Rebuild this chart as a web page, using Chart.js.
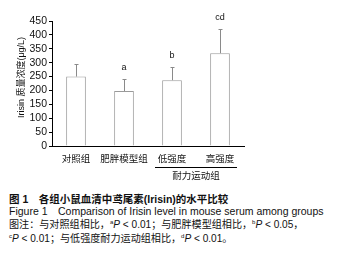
<!DOCTYPE html>
<html>
<head>
<meta charset="utf-8">
<script src="https://cdn.jsdelivr.net/npm/chart.js@4.4.1/dist/chart.umd.min.js"></script>
<style>
  body { margin: 0; background: #fff; }
  #wrap { position: relative; width: 345px; height: 262px; }
  #chartBox { position: absolute; left: 0; top: 0; width: 345px; height: 185px; }
  #caption { position: absolute; left: 9px; top: 194px; width: 336px; white-space: nowrap;
    font-family: "Liberation Sans", "Noto Sans CJK SC", sans-serif; font-size: 10.5px; color: #111; line-height: 11.5px; }
  #caption .t { font-weight: bold; }
  #caption .n { font-size: 10.1px; }
  #caption sup { font-size: 6px; vertical-align: 4px; }
  #caption i { font-style: italic; }
</style>
</head>
<body>
<div id="wrap">
  <div id="chartBox"><canvas id="myChart" width="345" height="185"></canvas></div>
  <div id="caption">
    <div class="t">图 1&emsp;各组小鼠血清中鸢尾素(Irisin)的水平比较</div>
    <div>Figure 1&emsp;Comparison of Irisin level in mouse serum among groups</div>
    <div class="n">图注：与对照组相比，<sup>a</sup><i>P</i> &lt; 0.01；与肥胖模型组相比，<sup>b</sup><i>P</i> &lt; 0.05，</div>
    <div class="n"><sup>c</sup><i>P</i> &lt; 0.01；与低强度耐力运动组相比，<sup>d</sup><i>P</i> &lt; 0.01。</div>
  </div>
</div>
<script>
  // data
  const categories = ["对照组", "肥胖模型组", "低强度", "高强度"];
  const means = [250, 198, 237, 334];
  const errors = [44, 42, 46, 86];
  const sigMarks = ["", "a", "b", "cd"];
  const groupName = "耐力运动组";
  const groupMembers = [2, 3];
  const yMax = 450;
  const yStep = 50;
  const yTitle = "Irisin 质量浓度(μg/L)";

  const latin = '"Liberation Sans", "Noto Sans CJK SC", sans-serif';
  const cjk = '"Noto Sans CJK SC", sans-serif';

  // error bars, significance letters, group bracket and y title
  const extras = {
    id: "extras",
    afterDatasetsDraw(chart) {
      const ctx = chart.ctx;
      const y = chart.scales.y;
      const x = chart.scales.x;
      const bars = chart.getDatasetMeta(0).data;
      ctx.save();
      ctx.strokeStyle = "#8a8a8a";
      ctx.lineWidth = 1;
      bars.forEach((bar, i) => {
        const cx = Math.round(bar.x) + 0.5;
        const top = y.getPixelForValue(means[i]);
        const hi = y.getPixelForValue(means[i] + errors[i]);
        ctx.beginPath();
        ctx.moveTo(cx, top);
        ctx.lineTo(cx, hi);
        ctx.moveTo(cx - 2, Math.round(hi) + 0.5);
        ctx.lineTo(cx + 2, Math.round(hi) + 0.5);
        ctx.stroke();
        if (sigMarks[i]) {
          ctx.fillStyle = "#111";
          ctx.font = "9px " + latin;
          ctx.textAlign = "center";
          ctx.textBaseline = "middle";
          ctx.fillText(sigMarks[i], bar.x, hi - 12);
        }
      });

      // bracket under the exercise groups
      const x0 = x.getPixelForValue(groupMembers[0]) - 17;
      const x1 = x.getPixelForValue(groupMembers[1]) + 17;
      const by = y.bottom + 21.5;
      ctx.strokeStyle = "#000";
      ctx.beginPath();
      ctx.moveTo(x0, by);
      ctx.lineTo(x1, by);
      ctx.stroke();
      ctx.fillStyle = "#111";
      ctx.font = "9.5px " + cjk;
      ctx.textAlign = "center";
      ctx.textBaseline = "middle";
      ctx.fillText(groupName, (x0 + x1) / 2, by + 7.5);

      // rotated y axis title
      ctx.translate(22, (y.top + y.bottom) / 2 - 6);
      ctx.rotate(-Math.PI / 2);
      ctx.font = "9px " + latin;
      ctx.fillText(yTitle, 0, 0);
      ctx.restore();
    }
  };

  new Chart(document.getElementById("myChart"), {
    type: "bar",
    data: {
      labels: categories,
      datasets: [{
        data: means,
        backgroundColor: "#ffffff",
        borderColor: "#9a9a9a",
        borderWidth: 1,
        categoryPercentage: 1,
        barPercentage: 0.41
      }]
    },
    options: {
      responsive: false,
      animation: false,
      events: [],
      layout: { padding: { left: 0, top: 21, right: 101, bottom: 0 } },
      plugins: { legend: { display: false }, tooltip: { enabled: false } },
      scales: {
        x: {
          grid: { display: false, drawTicks: false },
          border: { display: true, color: "#000", width: 1 },
          ticks: { color: "#111", font: { size: 9.5, family: cjk }, padding: 7, maxRotation: 0, autoSkip: false },
          afterFit(scale) { scale.height = 39; }
        },
        y: {
          min: 0,
          max: yMax,
          grid: { display: true, drawOnChartArea: false, drawTicks: true, tickLength: 3, color: "#000" },
          border: { display: true, color: "#000", width: 1 },
          ticks: { stepSize: yStep, autoSkip: false, color: "#111", font: { size: 10.5, family: latin }, padding: 2 },
          afterFit(scale) { scale.width = 52; }
        }
      }
    },
    plugins: [extras]
  });
</script>
</body>
</html>
